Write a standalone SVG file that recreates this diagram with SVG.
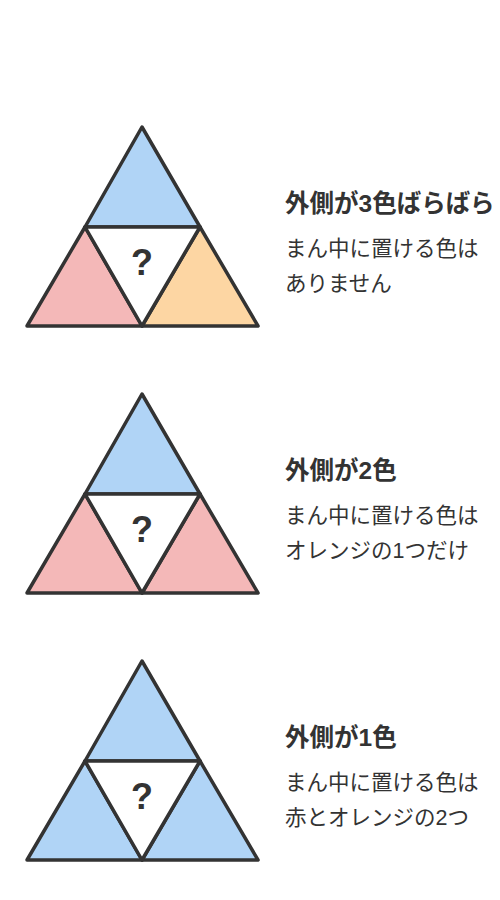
<svg xmlns="http://www.w3.org/2000/svg" width="500" height="900" viewBox="0 0 500 900">
<style>
.t{stroke:#333;stroke-width:3.5;stroke-linejoin:round}
.b{fill:#b0d4f6}.r{fill:#f4b8b8}.o{fill:#fdd6a3}.w{fill:#fff}
.q{font-family:"Liberation Sans","Noto Sans CJK JP",sans-serif;font-weight:bold;font-size:36px;fill:#333;text-anchor:middle}
.h{font-family:"Liberation Sans","Noto Sans CJK JP",sans-serif;font-weight:bold;font-size:24.5px;fill:#333}
.s{font-family:"Liberation Sans","Noto Sans CJK JP",sans-serif;font-size:21.5px;fill:#333}
</style>
<rect width="500" height="900" fill="#fff"/>
<g id="fig1">
<polygon class="t b" points="142,127 200,227 85,227"/>
<polygon class="t r" points="85,227 142,326 27,326"/>
<polygon class="t o" points="200,227 258,326 142,326"/>
<polygon class="t w" points="85,227 200,227 142,326"/>
<text class="q" x="142" y="275">?</text>
</g>
<g id="label1">
<text class="h" x="285" y="212">外側が3色ばらばら</text>
<text class="s" x="285" y="256">まん中に置ける色は</text>
<text class="s" x="285" y="291">ありません</text>
</g>
<g id="fig2">
<polygon class="t b" points="142,394 200,494 85,494"/>
<polygon class="t r" points="85,494 142,593 27,593"/>
<polygon class="t r" points="200,494 258,593 142,593"/>
<polygon class="t w" points="85,494 200,494 142,593"/>
<text class="q" x="142" y="542">?</text>
</g>
<g id="label2">
<text class="h" x="285" y="479">外側が2色</text>
<text class="s" x="285" y="523">まん中に置ける色は</text>
<text class="s" x="285" y="558">オレンジの1つだけ</text>
</g>
<g id="fig3">
<polygon class="t b" points="142,661 200,761 85,761"/>
<polygon class="t b" points="85,761 142,860 27,860"/>
<polygon class="t b" points="200,761 258,860 142,860"/>
<polygon class="t w" points="85,761 200,761 142,860"/>
<text class="q" x="142" y="809">?</text>
</g>
<g id="label3">
<text class="h" x="285" y="746">外側が1色</text>
<text class="s" x="285" y="790">まん中に置ける色は</text>
<text class="s" x="285" y="825">赤とオレンジの2つ</text>
</g>
</svg>
